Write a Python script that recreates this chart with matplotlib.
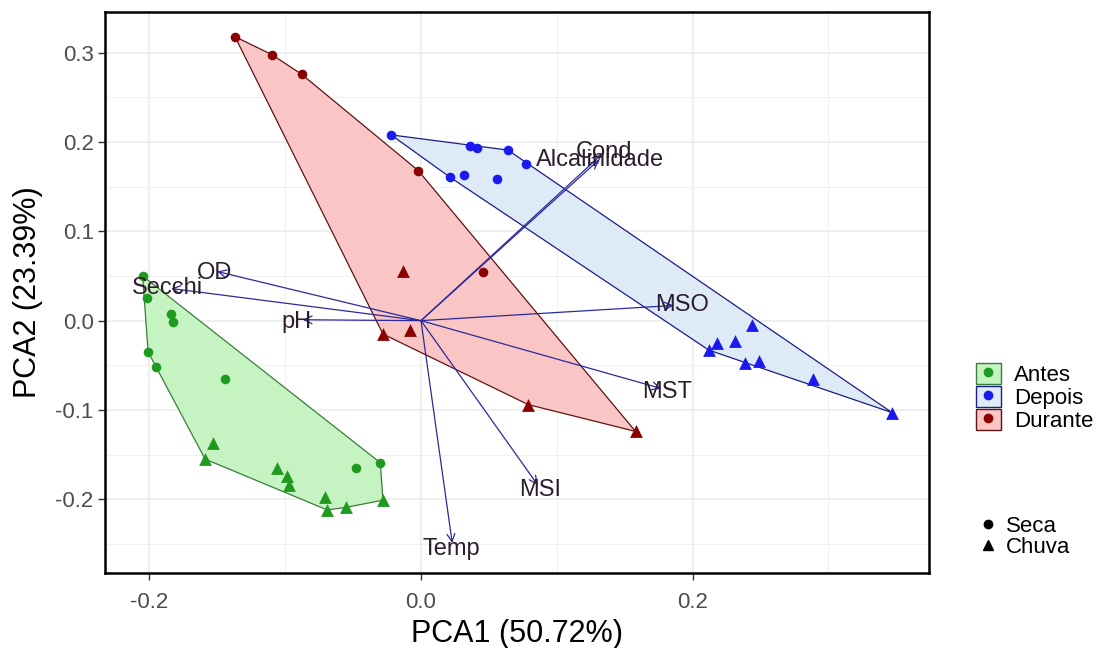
import numpy as np
import matplotlib
matplotlib.use("Agg")
import matplotlib.pyplot as plt
from matplotlib.lines import Line2D
from matplotlib.patches import Patch

plt.rcParams['font.family'] = ['Liberation Sans', 'DejaVu Sans']

# PCA scores (PCA1, PCA2)
antes_seca_x = [-0.205, -0.202, -0.184, -0.183, -0.201, -0.195, -0.144, -0.048, -0.030]
antes_seca_y = [0.050, 0.025, 0.008, -0.002, -0.035, -0.052, -0.065, -0.165, -0.159]
antes_chuva_x = [-0.153, -0.159, -0.106, -0.099, -0.097, -0.071, -0.069, -0.055, -0.028]
antes_chuva_y = [-0.137, -0.155, -0.165, -0.174, -0.184, -0.197, -0.212, -0.209, -0.201]

depois_seca_x = [-0.022, 0.036, 0.041, 0.064, 0.077, 0.021, 0.032, 0.056]
depois_seca_y = [0.208, 0.195, 0.193, 0.191, 0.175, 0.161, 0.163, 0.159]
depois_chuva_x = [0.244, 0.218, 0.231, 0.212, 0.239, 0.249, 0.289, 0.347]
depois_chuva_y = [-0.005, -0.025, -0.023, -0.033, -0.047, -0.045, -0.065, -0.103]

durante_seca_x = [-0.137, -0.110, -0.088, -0.002, 0.046]
durante_seca_y = [0.318, 0.298, 0.276, 0.168, 0.054]
durante_chuva_x = [-0.013, -0.008, -0.028, 0.079, 0.158]
durante_chuva_y = [0.056, -0.010, -0.015, -0.094, -0.124]

# variable loadings (arrow ends) and where their names sit
var_names = ['OD', 'Secchi', 'pH', 'Cond', 'Alcalinidade', 'MSO', 'MST', 'MSI', 'Temp']
var_x = [-0.150, -0.184, -0.087, 0.133, 0.131, 0.186, 0.177, 0.086, 0.023]
var_y = [0.055, 0.036, 0.001, 0.186, 0.180, 0.017, -0.076, -0.184, -0.249]
lab_x = [-0.152, -0.187, -0.092, 0.135, 0.132, 0.192, 0.181, 0.088, 0.022]
lab_y = [0.053, 0.037, -0.002, 0.189, 0.180, 0.017, -0.080, -0.190, -0.256]

groups = ['Antes', 'Depois', 'Durante']
pt_cols = ['#1e9a1e', '#1a1aee', '#8b0000']
fill_cols = ['#c6f3c2', '#deebf7', '#f9c5c5']
edge_cols = ['#3b7d3b', '#1c1c8a', '#5e1414']


def hull(x, y):
    pts = sorted(set(zip(x, y)))

    def cross(o, a, b):
        return (a[0] - o[0]) * (b[1] - o[1]) - (a[1] - o[1]) * (b[0] - o[0])
    lower = []
    for p in pts:
        while len(lower) >= 2 and cross(lower[-2], lower[-1], p) <= 0:
            lower.pop()
        lower.append(p)
    upper = []
    for p in reversed(pts):
        while len(upper) >= 2 and cross(upper[-2], upper[-1], p) <= 0:
            upper.pop()
        upper.append(p)
    return np.array(lower[:-1] + upper[:-1])


fig = plt.figure(figsize=(11.03, 6.48), dpi=100)
ax = fig.add_axes([0.0956, 0.1162, 0.7467, 0.8653])

data = [
    (antes_seca_x, antes_seca_y, antes_chuva_x, antes_chuva_y),
    (depois_seca_x, depois_seca_y, depois_chuva_x, depois_chuva_y),
    (durante_seca_x, durante_seca_y, durante_chuva_x, durante_chuva_y),
]

for i, (sx, sy, cx, cy) in enumerate(data):
    h = hull(sx + cx, sy + cy)
    ax.fill(h[:, 0], h[:, 1], facecolor=fill_cols[i], edgecolor=edge_cols[i],
            linewidth=0.9, zorder=2)

for i, (sx, sy, cx, cy) in enumerate(data):
    ax.scatter(sx, sy, marker='o', s=48, color=pt_cols[i], linewidths=0, zorder=3)
    ax.scatter(cx, cy, marker='^', s=85, color=pt_cols[i], linewidths=0, zorder=3)

for i, name in enumerate(var_names):
    ax.annotate('', xy=(var_x[i], var_y[i]), xytext=(0, 0),
                arrowprops=dict(arrowstyle='->', color='#2a2a9c', lw=0.9,
                                mutation_scale=14, shrinkA=0, shrinkB=0),
                zorder=4)
    ax.text(lab_x[i], lab_y[i], name, ha='center', va='center', fontsize=17,
            color='#2b1d2b', zorder=5)

ax.set_xlim(-0.2324, 0.3742)
ax.set_ylim(-0.2822, 0.3456)
ax.set_xticks([-0.2, 0.0, 0.2])
ax.set_xticklabels(['-0.2', '0.0', '0.2'])
ax.set_yticks([-0.2, -0.1, 0.0, 0.1, 0.2, 0.3])
ax.set_yticklabels(['-0.2', '-0.1', '0.0', '0.1', '0.2', '0.3'])
ax.set_xticks([-0.1, 0.1, 0.3], minor=True)
ax.set_yticks([-0.25, -0.15, -0.05, 0.05, 0.15, 0.25], minor=True)
ax.tick_params(which='major', direction='out', length=5, width=1, color='#333333',
               labelsize=16, labelcolor='#4d4d4d')
ax.tick_params(axis='x', which='major', pad=9)
ax.tick_params(which='minor', length=0)
ax.grid(which='major', color='#ebebeb', linewidth=1.1, zorder=0)
ax.grid(which='minor', color='#f0f0f0', linewidth=0.7, zorder=0)
ax.set_axisbelow(True)
for s in ax.spines.values():
    s.set_linewidth(1.8)
    s.set_color('black')

ax.set_xlabel('PCA1 (50.72%)', fontsize=22, labelpad=4)
ax.set_ylabel('PCA2 (23.39%)', fontsize=22, labelpad=9)

handles = [(Patch(facecolor=fill_cols[i], edgecolor=edge_cols[i], linewidth=1),
            Line2D([], [], marker='o', color=pt_cols[i], ls='', ms=6))
           for i in range(3)]
fig.legend(handles, groups, loc='upper left', bbox_to_anchor=(0.877, 0.454),
           frameon=False, fontsize=16, handlelength=1.1, handleheight=1.1,
           handletextpad=0.6, labelspacing=0.0, borderaxespad=0)

shape_handles = [Line2D([], [], marker='o', color='black', ls='', ms=6),
                 Line2D([], [], marker='^', color='black', ls='', ms=6.5)]
fig.legend(shape_handles, ['Seca', 'Chuva'], loc='upper left',
           bbox_to_anchor=(0.88, 0.218), frameon=False, fontsize=16,
           handlelength=0.8, handletextpad=0.4, labelspacing=0.0, borderaxespad=0)

fig.savefig('out.png', dpi=100)
